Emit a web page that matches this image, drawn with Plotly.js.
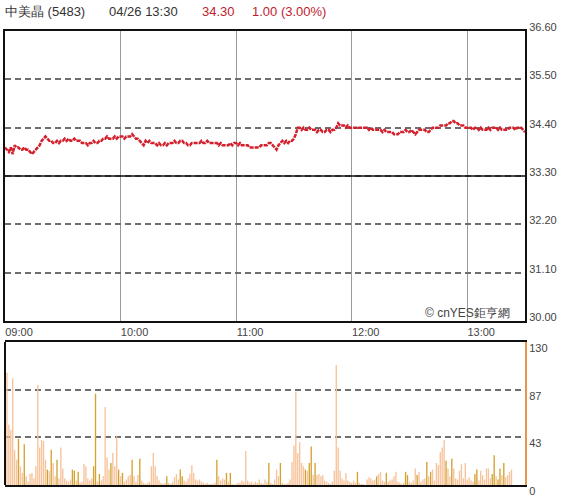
<!DOCTYPE html>
<html>
<head>
<meta charset="utf-8">
<script src="https://cdn.plot.ly/plotly-3.0.1.min.js"></script>
<style>html,body{margin:0;padding:0;background:#fff;}#chart{width:580px;height:500px;}</style>
</head>
<body>
<div id="chart"></div>
<script>
// ---- data ----
const stockName = '中美晶 (5483)';
const stamp = '04/26 13:30';
const lastPrice = '34.30';
const changeText = '1.00 (3.00%)';
const prevClose = 33.30;
const sourceText = '© cnYES鉅亨網';

const timeTickVals = [0, 60, 120, 180, 240];
const timeTickText = ['09:00', '10:00', '11:00', '12:00', '13:00'];
const priceTicks = [30.00, 31.10, 32.20, 33.30, 34.40, 35.50, 36.60];
const volTickVals = [0, 43.33, 86.67, 130];
const volTickText = ['0', '43', '87', '130'];

// one price per minute 09:00 .. 13:30
const price = [
  33.95,33.90,33.85,33.95,33.80,34.00,33.95,33.95,33.90,33.90,
  33.95,33.90,33.90,33.85,33.80,33.85,33.90,33.95,34.00,34.10,
  34.15,34.20,34.15,34.10,34.10,34.05,34.05,34.10,34.05,34.10,
  34.10,34.15,34.10,34.15,34.10,34.10,34.15,34.10,34.10,34.10,
  34.05,34.05,34.05,34.00,34.05,34.05,34.10,34.05,34.05,34.10,
  34.10,34.15,34.15,34.20,34.15,34.15,34.15,34.20,34.15,34.20,
  34.20,34.20,34.15,34.20,34.20,34.20,34.25,34.20,34.15,34.15,
  34.10,34.05,34.00,34.10,34.05,34.10,34.05,34.05,34.05,34.00,
  34.05,34.00,34.00,34.05,34.00,34.05,34.05,34.05,34.10,34.05,
  34.05,34.10,34.10,34.05,34.05,34.00,34.00,34.05,34.05,34.05,
  34.05,34.05,34.10,34.05,34.05,34.10,34.05,34.05,34.05,34.05,
  34.05,34.00,34.05,34.00,34.00,34.00,34.00,34.05,34.00,34.05,
  34.05,34.00,34.05,34.00,34.00,34.00,34.00,33.95,33.95,33.95,
  33.95,33.95,33.95,34.00,34.00,34.00,34.00,34.05,34.05,34.00,
  33.95,33.90,34.00,34.05,34.10,34.05,34.10,34.05,34.10,34.10,
  34.15,34.25,34.40,34.40,34.35,34.40,34.35,34.35,34.40,34.35,
  34.35,34.35,34.30,34.35,34.35,34.30,34.30,34.35,34.35,34.30,
  34.35,34.35,34.40,34.50,34.45,34.45,34.45,34.40,34.45,34.40,
  34.40,34.40,34.40,34.40,34.40,34.40,34.40,34.40,34.40,34.35,
  34.40,34.35,34.35,34.35,34.35,34.35,34.30,34.35,34.30,34.30,
  34.30,34.30,34.25,34.25,34.25,34.30,34.30,34.30,34.35,34.30,
  34.30,34.35,34.30,34.25,34.30,34.35,34.35,34.35,34.35,34.30,
  34.30,34.35,34.40,34.40,34.40,34.40,34.45,34.45,34.45,34.45,
  34.50,34.50,34.55,34.55,34.50,34.50,34.45,34.45,34.45,34.40,
  34.40,34.40,34.40,34.35,34.40,34.40,34.35,34.40,34.35,34.35,
  34.35,34.40,34.35,34.40,34.40,34.40,34.35,34.40,34.35,34.35,
  34.35,34.35,34.40,34.40,34.40,34.35,34.40,34.40,34.40,34.35,
  34.30
];

// one volume per minute
const volume = [
  62,102,55,50,97,32,23,42,17,11,
  37,8,3,10,11,6,17,91,34,41,
  40,23,14,13,32,20,8,23,6,34,
  15,6,4,3,5,14,13,4,12,2,
  3,19,17,6,4,6,17,83,3,10,
  4,8,71,25,14,20,29,17,44,14,
  8,11,3,5,8,9,23,8,3,9,
  24,4,2,1,2,3,17,29,17,8,
  4,2,1,2,8,2,1,3,7,10,
  5,14,8,4,3,6,10,18,11,5,
  4,5,3,2,1,2,1,1,1,2,
  23,8,4,6,5,11,3,11,1,0,
  1,2,2,4,3,31,4,2,3,1,
  3,2,5,2,1,5,3,20,2,1,
  5,14,8,20,2,1,1,2,5,21,
  36,85,29,39,20,17,14,13,20,35,
  9,20,9,10,8,9,4,3,2,1,
  3,13,109,34,13,6,4,11,4,3,
  2,4,2,12,2,1,1,0,5,7,
  6,4,5,8,10,12,4,3,11,3,
  4,5,8,12,3,2,1,2,12,9,
  3,2,4,15,9,12,3,5,6,21,
  8,12,14,4,20,18,30,34,41,22,
  15,8,24,15,6,5,13,19,6,20,
  5,7,4,3,10,14,4,13,9,5,
  15,15,6,10,27,8,5,15,9,20,
  7,9,12,14,0,0,0,0,0,0,
  0
];

// trade side per minute: p = pale bar, g = gold bar
const volSide = (
  'pppppppgpp' + 'gppppppppp' + 'ppgpgppgpp' + 'pppppggpgp' + 'ppppppggpg' +
  'pppppgpppg' + 'pgppppgppp' + 'gppppppppp' + 'ppppgppppp' + 'pggppppppp' +
  'pppppppppp' + 'gppppgpgpp' + 'pppppppppp' + 'pppppppgpp' + 'pppgpppppp' +
  'ppppppgpgg' + 'pgpppppppp' + 'pppppppppp' + 'pppgpppppp' + 'pppgppppgp' +
  'ppppppppgg' + 'ppppgppppg' + 'pgpppppppg' + 'ppgppppppp' + 'ppppggpppp' +
  'pppggpggpg' + 'ppppppppppp'
).split('');

// ---- drawing ----
const minutes = price.map((_, i) => i);
const PALE = '#f7c39a', GOLD = '#d3a232';

const traces = [
  {
    type: 'scatter', mode: 'lines', x: minutes, y: price,
    xaxis: 'x', yaxis: 'y',
    line: {color: '#d3202c', width: 2.5, dash: '4px,1px'},
    hoverinfo: 'skip'
  },
  {
    type: 'bar', x: minutes, y: volume, xaxis: 'x2', yaxis: 'y2',
    width: 0.7,
    marker: {color: volSide.map(s => s === 'g' ? GOLD : PALE), line: {width: 0}},
    hoverinfo: 'skip'
  }
];

const tickFont = {family: 'Liberation Sans, Arial, sans-serif', size: 11, color: '#444'};

const layout = {
  width: 580, height: 500,
  margin: {l: 5, r: 55, t: 31, b: 15},
  paper_bgcolor: '#fff', plot_bgcolor: '#fff',
  showlegend: false,
  font: {family: 'Liberation Sans, Arial, sans-serif', size: 11, color: '#333'},
  xaxis: {
    domain: [0, 1], anchor: 'y', range: [0, 270],
    tickvals: timeTickVals, ticktext: timeTickText, ticks: '',
    ticklabelshift: 14, tickfont: tickFont,
    showgrid: true, gridcolor: '#9a9a9a', gridwidth: 1,
    showline: true, linecolor: '#111', linewidth: 2, mirror: true,
    zeroline: false, fixedrange: true
  },
  yaxis: {
    domain: [0.3612, 1], anchor: 'x', range: [30, 36.6], side: 'right',
    tickvals: priceTicks, tickformat: '.2f', ticks: '',
    ticklabelshift: -4, tickfont: tickFont,
    showgrid: true, gridcolor: '#6e6e6e', gridwidth: 2, griddash: '6px,4px',
    showline: true, linecolor: '#111', linewidth: 2, mirror: true,
    zeroline: false, fixedrange: true
  },
  xaxis2: {
    domain: [0, 1], anchor: 'y2', matches: 'x', range: [0, 270],
    showticklabels: false, ticks: '', showgrid: false,
    showline: true, linecolor: '#111', linewidth: 2, mirror: true,
    zeroline: false, fixedrange: true
  },
  yaxis2: {
    domain: [0, 0.315], anchor: 'x2', range: [0, 130], side: 'right',
    tickvals: volTickVals, ticktext: volTickText, ticks: '',
    ticklabelshift: 6, tickfont: tickFont,
    showgrid: true, gridcolor: '#6e6e6e', gridwidth: 2, griddash: '6px,4px',
    showline: true, linecolor: '#e8964c', linewidth: 2, mirror: false,
    zeroline: false, fixedrange: true
  },
  shapes: [
    {type: 'line', xref: 'x domain', yref: 'y', x0: 0, x1: 1, y0: prevClose, y1: prevClose,
     line: {color: '#111', width: 1.5}},
    {type: 'line', xref: 'paper', yref: 'y2 domain', x0: 0, x1: 0, y0: 0, y1: 1,
     line: {color: '#111', width: 2}}
  ],
  annotations: [
    {xref: 'paper', yref: 'paper', x: -0.004, y: 1.044, xanchor: 'left', yanchor: 'middle',
     text: stockName, showarrow: false, font: {size: 13, color: '#333'}},
    {xref: 'paper', yref: 'paper', x: 0.196, y: 1.044, xanchor: 'left', yanchor: 'middle',
     text: stamp, showarrow: false, font: {size: 13, color: '#333'}},
    {xref: 'paper', yref: 'paper', x: 0.375, y: 1.044, xanchor: 'left', yanchor: 'middle',
     text: lastPrice, showarrow: false, font: {size: 13, color: '#c0212e'}},
    {xref: 'paper', yref: 'paper', x: 0.471, y: 1.044, xanchor: 'left', yanchor: 'middle',
     text: changeText, showarrow: false, font: {size: 13, color: '#c0212e'}},
    {xref: 'paper', yref: 'paper', x: 0.804, y: 0.3789, xanchor: 'left', yanchor: 'middle',
     text: sourceText, showarrow: false, font: {size: 12, color: '#444'}}
  ]
};

Plotly.newPlot('chart', traces, layout, {displayModeBar: false, staticPlot: true});
</script>
</body>
</html>
